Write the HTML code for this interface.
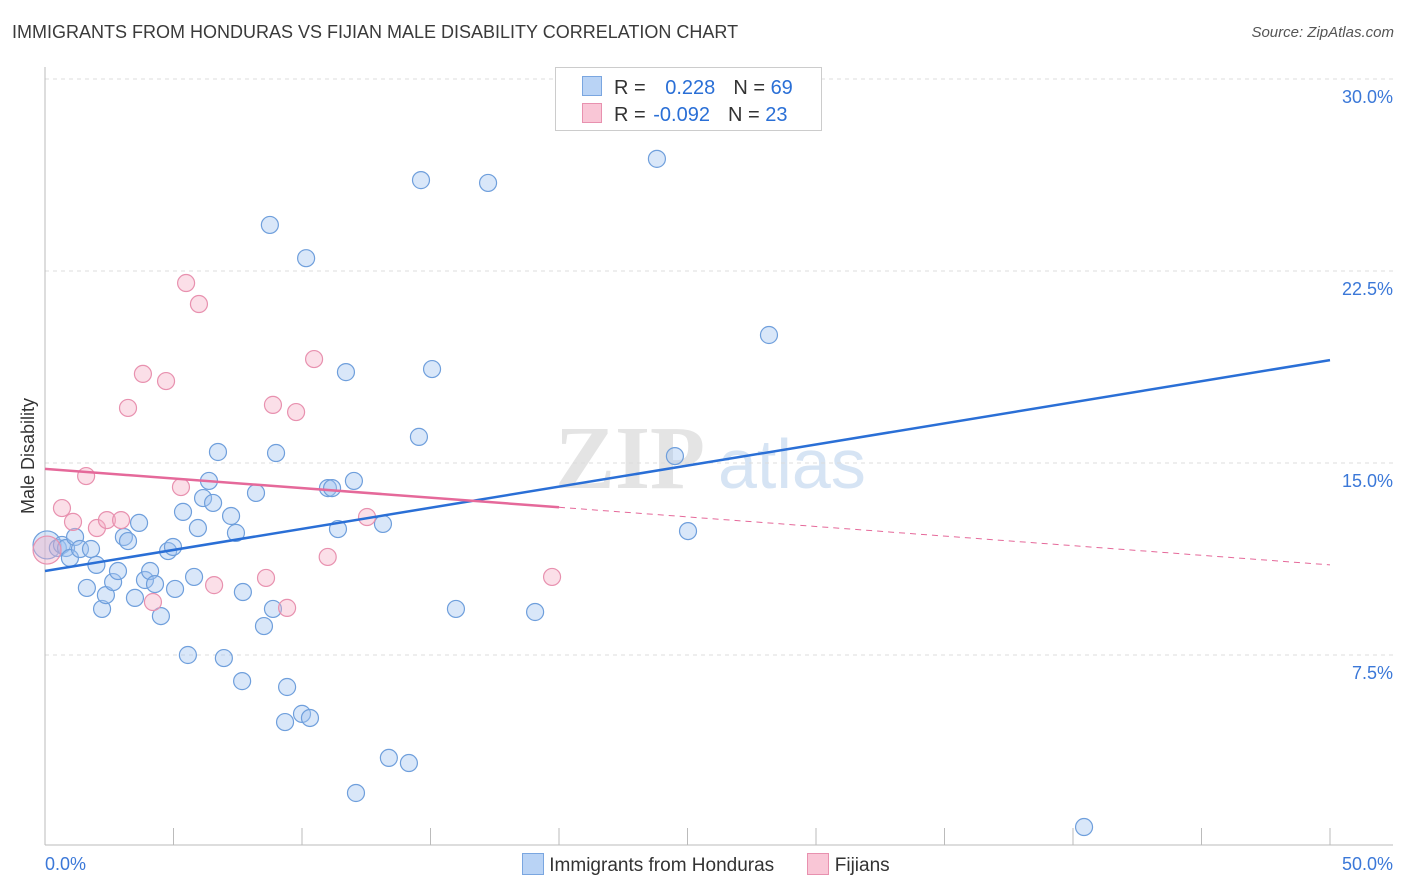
<!DOCTYPE html>
<html><head><meta charset="utf-8"><style>
body{margin:0;background:#fff;font-family:"Liberation Sans",sans-serif;}
#wrap{position:relative;width:1406px;height:892px;overflow:hidden;}
.t{position:absolute;white-space:nowrap;}
</style></head><body>
<div id="wrap">
<div class="t" style="left:12px;top:22px;font-size:18px;color:#3a3a3a;">IMMIGRANTS FROM HONDURAS VS FIJIAN MALE DISABILITY CORRELATION CHART</div>
<div class="t" style="right:12px;top:24px;font-size:15px;color:#555;font-style:italic;">Source: ZipAtlas.com</div>
<svg id="svg" width="1406" height="892" style="position:absolute;left:0;top:0"></svg>
</div>
<script>
const blueX=[0.08,0.5,0.66,0.82,0.97,1.17,1.36,1.79,1.63,2.0,2.22,2.37,2.65,2.84,3.07,3.23,3.5,3.66,3.89,4.09,4.28,4.51,4.79,4.98,5.06,5.37,5.56,5.8,5.95,6.15,6.38,6.54,6.73,6.96,7.24,7.43,7.67,7.70,8.21,8.52,8.75,8.99,8.87,9.34,9.42,10.0,10.31,10.16,11.01,11.17,11.40,11.71,12.02,12.1,13.15,13.38,14.16,14.55,14.63,15.06,15.99,17.24,19.07,23.81,24.51,25.02,28.17,40.43];
const blueY=[11.8,11.68,11.8,11.68,11.29,12.11,11.64,11.64,10.12,11.02,9.3,9.84,10.35,10.78,12.11,11.95,9.73,12.66,10.43,10.78,10.27,9.02,11.56,11.72,10.08,13.09,7.5,10.55,12.46,13.63,14.3,13.44,15.43,7.38,12.93,12.27,6.48,9.96,13.83,8.63,24.3,15.39,9.3,4.88,6.25,5.2,5.04,23.0,14.02,14.02,12.42,18.55,14.3,2.11,12.62,3.48,3.28,16.02,26.05,18.67,9.3,25.94,9.18,26.88,15.27,12.34,20.0,0.78];
const pinkX=[0.08,0.66,1.09,1.6,2.02,2.41,2.96,3.23,3.81,4.2,4.71,5.29,5.49,5.99,6.58,8.6,8.87,9.42,9.77,10.47,11.0,12.53,19.73];
const pinkY=[11.6,13.24,12.7,14.49,12.46,12.77,12.77,17.15,18.48,9.57,18.2,14.06,22.03,21.21,10.23,10.51,17.27,9.34,16.99,19.06,11.33,12.89,10.55];
const blueTrend=[10.78,19.02];
const pinkTrend=[14.77,11.02];
const pinkSolidEnd=20.0;
const yTicks=[7.5,15.0,22.5,30.0];
const xs=v=>45+v/50*1285, ys=v=>847-v/7.5*192;
const svg=document.getElementById('svg');const NS='http://www.w3.org/2000/svg';
function mk(tag,at,parent){const e=document.createElementNS(NS,tag);for(const k in at)e.setAttribute(k,at[k]);(parent||svg).appendChild(e);return e;}
// watermark
let w=mk('text',{x:555,y:488,'font-size':90,'font-family':'Liberation Serif',fill:'#e4e4e4','font-weight':'bold'});w.textContent='ZIP';


let w2=mk('text',{x:718,y:488,'font-size':70,'font-family':'Liberation Sans',fill:'#d6e4f4'});w2.textContent='atlas';


yTicks.forEach(v=>{
 const g=mk('line',{x1:45,x2:1393,y1:ys(v),y2:ys(v),stroke:'#dcdcdc','stroke-dasharray':'4,4'});
 
 
 const t=mk('text',{x:1393,y:ys(v)+24,'text-anchor':'end','font-size':18,fill:'#3b78d8'});t.textContent=v.toFixed(1)+'%';
 
 
});
mk('line',{x1:45,x2:45,y1:67,y2:845,stroke:'#bbb'});
mk('line',{x1:45,x2:1393,y1:845,y2:845,stroke:'#bbb'});
for(let i=1;i<=10;i++){const tk=mk('line',{x1:xs(i*5),x2:xs(i*5),y1:828,y2:845,stroke:'#bbb'});
 
 }
[['0.0%',45,'start'],['50.0%',1393,'end']].forEach(a=>{const t=mk('text',{x:a[1],y:870,'text-anchor':a[2],'font-size':18,fill:'#3b78d8'});t.textContent=a[0];
 
 });
const yl=mk('text',{x:34,y:456,'text-anchor':'middle','font-size':18,fill:'#333',transform:'rotate(-90 34 456)'});yl.textContent='Male Disability';


function pts(X,Y,fill,stroke,name){X.forEach((x,i)=>{const c=mk('circle',{cx:xs(x),cy:ys(Y[i]),r:i==0?14:8.5,fill:fill,stroke:stroke,'stroke-width':1.2});
 
 });}
pts(blueX,blueY,'rgba(160,196,240,0.4)','#6f9fdc','honduras-point');
pts(pinkX,pinkY,'rgba(246,175,198,0.4)','#e891af','fijian-point');
const bl=mk('line',{x1:xs(0),y1:ys(blueTrend[0]),x2:xs(50),y2:ys(blueTrend[1]),stroke:'#2a6fd6','stroke-width':2.5});


const pm=pinkTrend[0]+(pinkTrend[1]-pinkTrend[0])*pinkSolidEnd/50;
const pl=mk('line',{x1:xs(0),y1:ys(pinkTrend[0]),x2:xs(pinkSolidEnd),y2:ys(pm),stroke:'#e5699a','stroke-width':2.5});


const pd=mk('line',{x1:xs(pinkSolidEnd),y1:ys(pm),x2:xs(50),y2:ys(pinkTrend[1]),stroke:'#e5699a','stroke-width':1,'stroke-dasharray':'6,5'});


</script>
<div class="t" style="left:555px;top:67px;width:265px;height:62px;border:1px solid #ccc;background:#fff;font-size:20px;">
 <div style="position:absolute;left:26px;top:8px;"><span style="display:inline-block;width:18px;height:18px;background:#b9d3f5;border:1px solid #7aa6e0;vertical-align:-2px;"></span><span style="color:#333;margin-left:12px;">R = </span><span style="color:#2a6fd6;margin-left:14px;">0.228</span><span style="color:#333;margin-left:18px;">N = </span><span style="color:#2a6fd6;">69</span></div>
 <div style="position:absolute;left:26px;top:35px;"><span style="display:inline-block;width:18px;height:18px;background:#f9c6d6;border:1px solid #e891af;vertical-align:-2px;"></span><span style="color:#333;margin-left:12px;">R = </span><span style="color:#2a6fd6;margin-left:2px;">-0.092</span><span style="color:#333;margin-left:18px;">N = </span><span style="color:#2a6fd6;">23</span></div>
</div>
<div class="t" style="left:522px;top:853px;font-size:19px;color:#333;">
 <span><span style="display:inline-block;width:20px;height:20px;background:#b9d3f5;border:1px solid #7aa6e0;vertical-align:-4px;"></span> Immigrants from Honduras</span>
 <span style="margin-left:28px;"><span style="display:inline-block;width:20px;height:20px;background:#f9c6d6;border:1px solid #e891af;vertical-align:-4px;"></span> Fijians</span>
</div>
</body></html>
